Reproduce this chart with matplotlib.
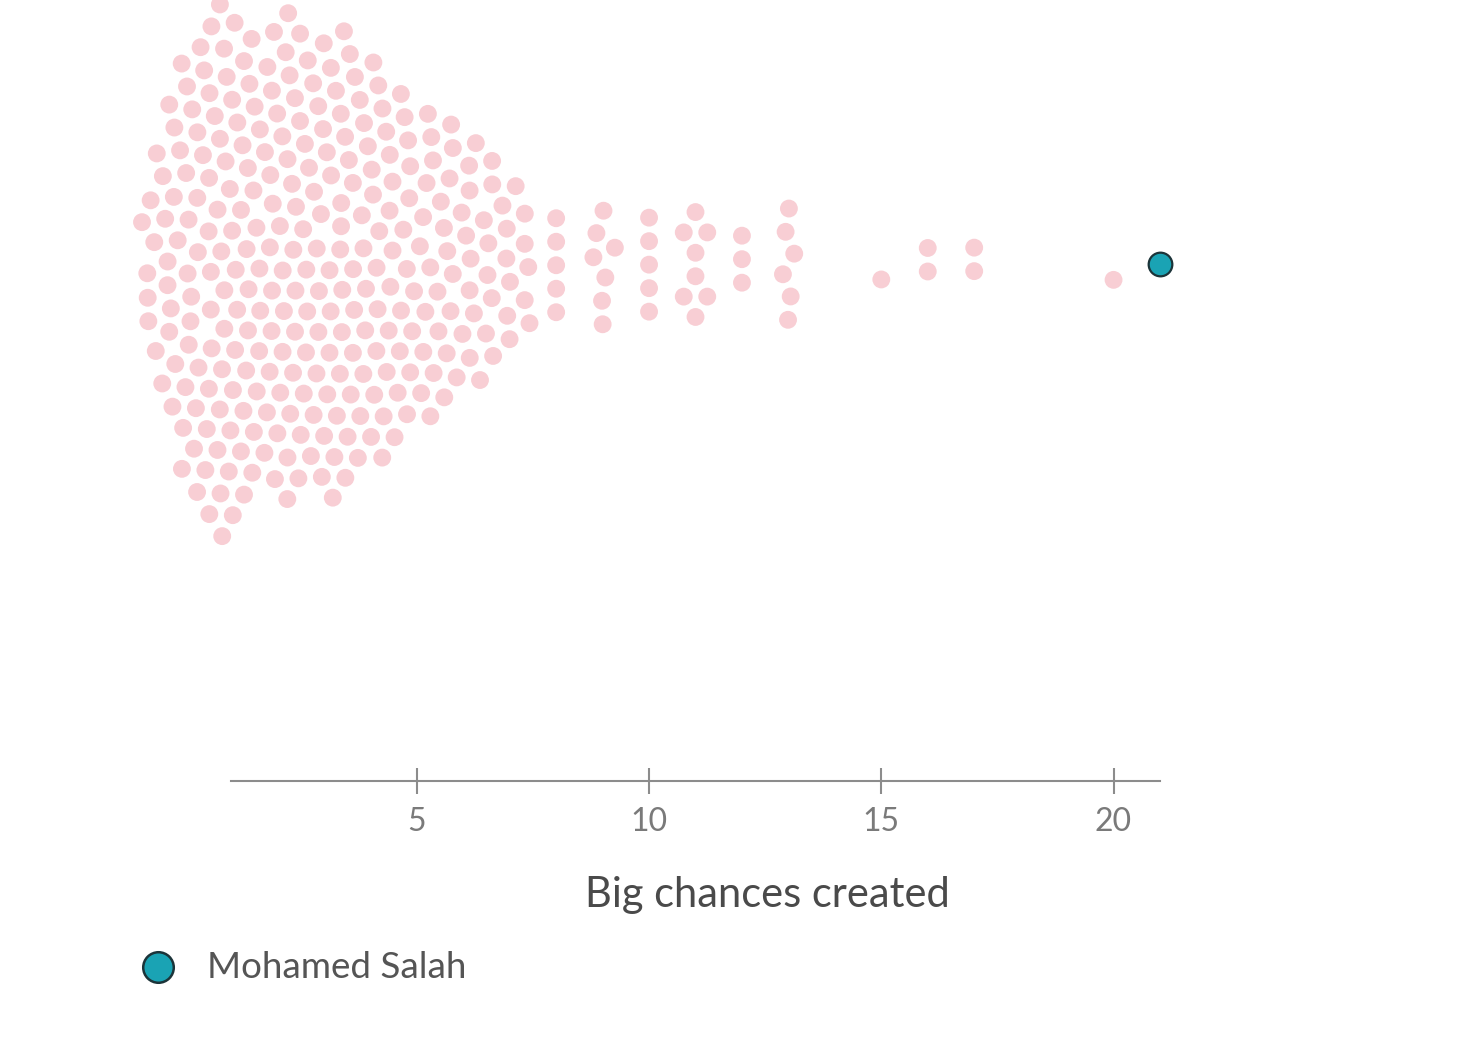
import numpy as np
import matplotlib.pyplot as plt
from matplotlib.lines import Line2D

plt.rcParams['font.family'] = ['Lato', 'DejaVu Sans']

# a. data: how many players created each number of big chances
chances = [1, 2, 3, 4, 5, 6, 7, 8, 9, 10, 11, 12, 13, 15, 16, 17, 20]
players = [88, 66, 52, 36, 26, 18, 12, 5, 7, 5, 8, 3, 6, 1, 2, 2, 1]
salah_name = 'Mohamed Salah'
salah_chances = 21
ticks = [5, 10, 15, 20]

# b. beeswarm layout, d3-like force simulation (x pull, y pull, collide)
def swarm(targets, radius, sx=0.3, sy=0.015, n_ticks=300):
    n = len(targets)
    i = np.arange(n)
    ang = i * np.pi * (3 - np.sqrt(5))
    rr = 0.2 * radius * np.sqrt(0.5 + i)
    x = targets + rr * np.cos(ang)
    y = rr * np.sin(ang)
    vx = np.zeros(n)
    vy = np.zeros(n)
    alpha = 1.0
    decay = 1 - 0.001 ** (1 / n_ticks)
    for _ in range(n_ticks):
        alpha += (0 - alpha) * decay
        vx += (targets - x) * sx * alpha
        vy += (0 - y) * sy * alpha
        px = x + vx
        py = y + vy
        dx = px[:, None] - px[None, :]
        dy = py[:, None] - py[None, :]
        d = np.sqrt(dx ** 2 + dy ** 2)
        np.fill_diagonal(d, np.inf)
        f = np.where(d < 2 * radius, (2 * radius - d) / d, 0.0) * 0.5
        vx += (f * dx).sum(axis=1)
        vy += (f * dy).sum(axis=1)
        vx *= 0.6
        vy *= 0.6
        x += vx
        y += vy
    return x, y

px_per_unit = 929 / 20
vals = np.repeat(chances, players).astype(float)
sx_, sy_ = swarm(vals, 11.75 / px_per_unit)

# c. plot
fig = plt.figure(figsize=(14.6, 10.47), dpi=100)
ax = fig.add_axes([231 / 1460, (1047 - 781) / 1047, 929 / 1460, 781 / 1047])
ax.set_xlim(1, 21)
ax.set_ylim(-517 / px_per_unit, 264 / px_per_unit)

ax.scatter(sx_, sy_, s=165, color='#f8ced4', edgecolors='none', clip_on=False, zorder=2)
ax.scatter([salah_chances], [0], s=290, color='#1aa3b4', edgecolors='#1c3439',
           linewidths=1.6, clip_on=False, zorder=3)

for s in ['top', 'left', 'right']:
    ax.spines[s].set_visible(False)
ax.spines['bottom'].set_color('#8c8c8c')
ax.spines['bottom'].set_linewidth(1.5)
ax.set_yticks([])
ax.set_xticks(ticks)
ax.tick_params(axis='x', direction='inout', length=19, width=1.5, colors='#8c8c8c',
               labelcolor='#7a7a7a', labelsize=23, pad=9)

fig.text(767 / 1460, 1 - 895 / 1047, 'Big chances created', ha='center', va='center',
         fontsize=30, color='#4a4a4a')

# d. legend
fig.add_artist(Line2D([158 / 1460], [1 - 967 / 1047], marker='o', markersize=22,
                      markerfacecolor='#1aa3b4', markeredgecolor='#1c3439',
                      markeredgewidth=1.8, linestyle='none', transform=fig.transFigure))
fig.text(207 / 1460, 1 - 967 / 1047, salah_name, ha='left', va='center',
         fontsize=26.5, color='#555555')

plt.savefig('out.png', dpi=100)
